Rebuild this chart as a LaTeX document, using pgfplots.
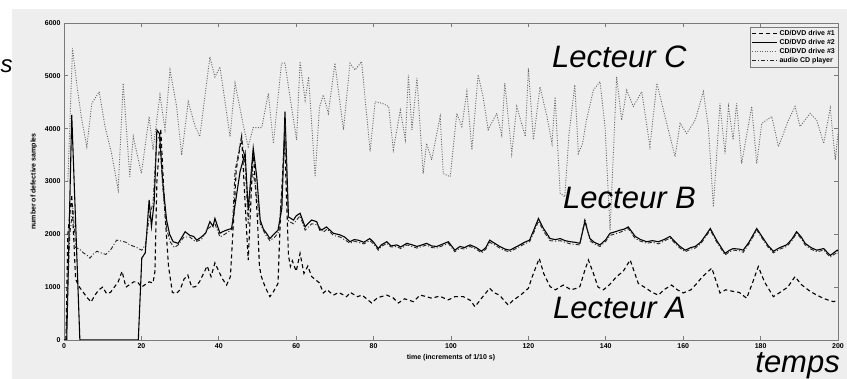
\documentclass[border=0pt]{standalone}
\usepackage{fontspec}
\setmainfont{Liberation Sans}
\usepackage{pgfplots}
\pgfplotsset{compat=1.18}
\definecolor{bg}{HTML}{EEEEEE}
\definecolor{axgray}{HTML}{7A7A7A}
\begin{document}
\begin{tikzpicture}[x=1pt,y=1pt]
\useasboundingbox (0,0) rectangle (847,379);
\clip (0,0) rectangle (847,379);
\fill[white] (0,0) rectangle (847,379);
\fill[bg] (12,0) rectangle (847,370);
\begin{axis}[
  at={(64pt,39pt)}, anchor=south west,
  width=774pt, height=317pt, scale only axis,
  xmin=0, xmax=200, ymin=0, ymax=6000,
  xtick={0,20,...,200}, ytick={0,1000,...,6000},
  tick align=inside, major tick length=4pt,
  axis line style={axgray, line width=0.8pt},
  every tick/.style={axgray, line width=0.8pt},
  tick label style={font=\fontsize{7}{8}\selectfont\bfseries},
  /pgf/number format/assume math mode=true,
  /pgf/number format/1000 sep={},
  xlabel={time (increments of 1/10 s)},
  ylabel={number of defective samples},
  label style={font=\fontsize{7}{8}\selectfont\bfseries},
  xlabel style={yshift=1pt},
  ylabel style={yshift=1pt},
  axis background/.style={fill=bg},
  legend style={at={(1,0.987)}, anchor=north east, draw=axgray, fill=bg,
    font=\fontsize{7}{8}\selectfont\bfseries, inner sep=1pt, row sep=-1.5pt},
  legend cell align=left,
  legend image code/.code={\draw[#1] (0pt,0pt) -- (25pt,0pt);},
]
\addplot[black, line width=1.1pt, dash pattern=on 4pt off 3pt] coordinates {
(0.5,0) (1,2000) (2,2750) (3,1150) (4,1000) (5,900) (6,800) (7,720) (8,850) (9,950)
(10,1000) (11,880) (12,900) (13,1000) (14,1100) (15,1300) (16,1000) (17,1050) (18,1100) (19,1100)
(20,1000) (21,1050) (22,1100) (23,1080) (23.5,1300) (24,3000) (25,4000) (26,2500) (27,1400) (28,900)
(29,880) (30,950) (31,1150) (32,1230) (33,1000) (34,1010) (35,1100) (36,1250) (37,1400) (38,1200)
(39,1460) (40,1300) (41,1150) (42,1040) (43,1200) (44,2500) (44.5,3220) (45.9,3850) (46.5,3000) (47.6,1510)
(48.9,3600) (50,2270) (50.5,1390) (51,1200) (52,1000) (53.2,820) (54,900) (55.3,1070) (56,2500) (57,3800)
(58,1600) (58.5,1390) (59,1500) (60,1300) (61,1640) (62,1260) (63,1400) (64,1200) (65,1140) (66,1080)
(67,890) (68,950) (69.6,850) (71,900) (73,820) (74,900) (75.8,820) (77,850) (79.5,700) (81,800)
(83.4,850) (85,800) (86.4,700) (88,780) (90.3,725) (92,850) (93.7,820) (95,790) (97,830) (99.3,760)
(101,820) (103.2,820) (105,750) (106.2,630) (108,800) (110,980) (111,900) (112.5,850) (114.8,660) (116,750)
(118,850) (120,980) (121,1200) (122.8,1545) (124,1250) (125.6,1010) (127,950) (129,1040) (131,950) (132.5,980)
(133.3,1010) (134.5,1300) (135.5,1515) (136.8,1260) (138,1000) (139.4,950) (141,1050) (142.8,1200) (144.5,1300) (146.3,1515)
(148.4,1070) (150,1000) (152,900) (153.6,850) (155,950) (157,1040) (158.5,950) (160,890) (162,950) (163.5,1070)
(165,1200) (167.4,1360) (169.5,890) (171,950) (172.9,920) (174.5,900) (176.4,790) (178,1100) (179.4,1390) (181,1100)
(183.3,820) (185,900) (187,1000) (188.9,1200) (190.5,1050) (192.8,920) (194.5,850) (196.5,780) (198.8,725) (200,750)
};
\addlegendentry{CD/DVD drive \#1}
\addplot[black, line width=1.1pt] coordinates {
(0,0) (0.7,0) (2,4260) (4.1,0) (19.2,0) (20.1,1550) (21,1650) (22,2650) (22.6,2150) (23.3,2600)
(24,3975) (24.7,3900) (25.5,3000) (26.5,2270) (27.3,2000) (28.2,1860) (29.5,1830) (30.5,1950) (31.3,2050) (32.5,1980)
(33.5,1960) (34.3,1890) (35.5,1950) (36.6,2020) (37.7,2240) (38.5,2150) (39,2300) (40.3,2020) (41,2050) (42,2080)
(43.3,2110) (44.5,2700) (45.5,3190) (46.8,3540) (47.6,2460) (48.9,3630) (49.8,3090) (50.7,2270) (51.5,2100) (52.5,2000)
(53.2,1920) (54.2,2000) (55.3,2080) (56.3,2500) (57.1,4320) (58,2330) (59.3,2270) (60,2350) (61,2400) (62.3,2140)
(63,2200) (64,2270) (65.3,2240) (66.1,2080) (67,2100) (67.8,2140) (69.6,2020) (71.3,1990) (72.5,1950) (73.9,1860)
(75,1900) (76,1890) (77.5,1850) (79,1920) (80,1850) (81.2,1730) (82,1800) (83.4,1860) (84.5,1780) (86,1800)
(87,1760) (88.6,1830) (90,1800) (91.2,1770) (92.5,1800) (93.7,1830) (95,1780) (96.3,1770) (98,1820) (99.3,1860)
(101,1700) (102.3,1770) (103.5,1750) (104.9,1800) (106.5,1750) (107.9,1680) (109,1750) (110,1890) (111.3,1830) (112.6,1770)
(114,1720) (115.2,1700) (116.5,1750) (117.8,1800) (119,1850) (120.3,1890) (121.5,2100) (122.6,2300) (123.9,2110) (125.6,1920)
(127,1900) (128.2,1920) (129.5,1880) (130.8,1860) (132,1850) (133.3,1830) (134.6,2240) (135.9,1920) (137,1850) (138.5,1800)
(140,1900) (141.1,2020) (142.5,2050) (143.7,2080) (144.8,2100) (145.8,2140) (147.6,1960) (149,1900) (150.6,1860) (152,1880)
(153.6,1860) (155,1900) (156.6,1960) (158,1850) (159,1780) (160.5,1700) (162,1750) (163.1,1770) (164.5,1850) (165.5,1950)
(167,2110) (168.6,1890) (170.8,1640) (172,1700) (172.9,1730) (174.5,1720) (175.5,1700) (177,1850) (179,2110) (180.7,1920)
(182,1780) (183.3,1680) (185,1750) (186.7,1800) (188,1900) (189.3,2050) (190.5,1950) (191.5,1830) (193,1750) (194.5,1700)
(196.3,1730) (198,1600) (199.8,1700) (200,1680)
};
\addlegendentry{CD/DVD drive \#2}
\addplot[black!60, line width=0.9pt, dash pattern=on 1pt off 1.5pt] coordinates {
(1,3000) (2.2,5520) (3.5,4730) (4.6,4160) (5.9,3660) (7.2,4480) (9.1,4700) (10.6,4040) (12.3,3530) (14,2840)
(15.3,4860) (17,3090) (17.9,3850) (20,3150) (22,4230) (23,3600) (24.8,4640) (26.1,3980) (27.4,5110) (29.1,4420)
(30.4,3500) (32.1,4510) (33.9,4040) (35.1,3850) (37.7,5360) (39,4980) (40.3,5170) (42.9,3850) (44.2,4860) (46.4,4040)
(47.6,3660) (48.9,4020) (51.1,4020) (52.8,4670) (54.1,3720) (56.2,5240) (57.1,5240) (58.4,4600) (60.1,3790) (61,5270)
(62.3,4540) (63.2,4980) (64.9,3090) (66,4400) (67,4640) (68.3,4290) (70,5240) (72.2,3980) (73.9,5240) (75.2,5110)
(76.9,5270) (79.1,3570) (80.4,4510) (82.2,4480) (83.9,4420) (85.1,3600) (86.9,4350) (88.2,3790) (89,5020) (89.9,3980)
(91.2,4960) (92.8,3150) (93.7,3720) (95,3410) (97.2,4230) (98,3150) (99.8,3090) (101.5,4290) (102.8,4040) (104.1,4700)
(105.4,3600) (107,5020) (108.3,4600) (109.6,3980) (111.8,4290) (113.1,3880) (113.9,4860) (115.7,3530) (117,4420) (119.2,3850)
(120,5140) (121.3,3790) (123,4790) (124.8,4230) (126.1,3720) (126.9,4600) (128.2,2780) (129.4,2710) (130.5,3900) (132,4830)
(132.9,3530) (134,3720) (135,4160) (136.8,4730) (138.5,4890) (139.8,4040) (141.1,2080) (142.8,4980) (144.1,4160) (145.4,4730)
(147.1,4420) (149.3,4700) (151.4,3660) (153.2,4860) (155.3,4230) (157.9,3470) (159.2,4100) (160.9,3910) (163.1,4160) (165.2,4700)
(166.5,4040) (167.8,2520) (169.5,4480) (170.8,3530) (171.7,4420) (172.9,3790) (173.8,4480) (175.1,3340) (177.7,4420) (179,3340)
(180.3,4100) (182.9,4230) (184.6,3660) (187.2,4160) (188.9,4420) (190.2,4040) (192.8,4290) (194.5,4160) (196.3,3720) (198,4390)
(199.3,3410) (200,3900)
};
\addlegendentry{CD/DVD drive \#3}
\addplot[black!85, line width=0.9pt, dash pattern=on 4pt off 2pt on 1pt off 2pt] coordinates {
(0.5,0) (1.5,2000) (2.3,2500) (3,1750) (4,1720) (5,1650) (6,1600) (6.7,1550) (7.5,1620) (8.5,1680)
(9.5,1650) (10.8,1620) (12,1700) (13.6,1890) (15,1870) (16,1850) (17,1800) (18.5,1760) (20.1,1700) (21,1800)
(22,2300) (23,2600) (24,3800) (24.7,3850) (25.5,2900) (26.5,2100) (27.5,1850) (28.5,1750) (29.5,1800) (31,1950)
(32.5,1950) (34,1860) (35.5,1900) (37,2100) (38,2150) (39,2200) (40.3,1950) (41.5,2000) (42.5,2050) (43.5,2100)
(44.2,3200) (45.9,3850) (46.8,3300) (47.6,2200) (48.5,3300) (49.5,2900) (50.7,2200) (52,2000) (53.2,1880) (54.5,1950)
(55.5,2050) (56.5,3000) (57.1,4100) (58,2250) (59.3,2200) (61,2350) (62.3,2080) (64,2200) (65.5,2180) (67,2040)
(68,2100) (69.6,1980) (71.3,1950) (72.5,1900) (73.9,1830) (75,1870) (76,1850) (77.5,1820) (79,1880) (80,1820)
(81.2,1700) (82,1770) (83.4,1830) (84.5,1760) (86,1770) (87,1730) (88.6,1800) (90,1770) (91.2,1740) (92.5,1770)
(93.7,1800) (95,1750) (96.3,1740) (98,1790) (99.3,1830) (101,1670) (102.3,1740) (103.5,1720) (104.9,1770) (106.5,1720)
(107.9,1650) (109,1720) (110,1850) (111.3,1800) (112.6,1740) (114,1690) (115.2,1670) (116.5,1720) (117.8,1770) (119,1820)
(120.3,1860) (121.5,2050) (122.6,2250) (123.9,2060) (125.6,1880) (127,1870) (128.2,1880) (129.5,1850) (130.8,1820) (132,1810)
(133.3,1800) (134.6,2300) (135.9,1880) (137,1820) (138.5,1770) (140,1870) (141.1,1980) (142.5,2010) (143.7,2040) (144.8,2070)
(145.8,2110) (147.6,1920) (149,1870) (150.6,1830) (152,1850) (153.6,1820) (155,1870) (156.6,1930) (158,1820) (159,1750)
(160.5,1670) (162,1720) (163.1,1740) (164.5,1820) (165.5,1920) (167,2080) (168.6,1860) (170.8,1610) (172,1670) (172.9,1700)
(174.5,1690) (175.5,1660) (177,1820) (179,2080) (180.7,1890) (182,1750) (183.3,1650) (185,1720) (186.7,1770) (188,1870)
(189.3,2020) (190.5,1920) (191.5,1800) (193,1720) (194.5,1670) (196.3,1700) (198,1570) (199.8,1660) (200,1640)
};
\addlegendentry{audio CD player}
\end{axis}
\node[anchor=base west, inner sep=0pt, font=\fontsize{31}{31}\selectfont\itshape] at (552,311) {Lecteur C};
\node[anchor=base west, inner sep=0pt, font=\fontsize{31}{31}\selectfont\itshape] at (563,170) {Lecteur B};
\node[anchor=base west, inner sep=0pt, font=\fontsize{31}{31}\selectfont\itshape] at (553,60) {Lecteur A};
\node[anchor=base east, inner sep=0pt, font=\fontsize{31}{31}\selectfont\itshape] at (840,6) {temps};
\node[anchor=base west, inner sep=0pt, font=\fontsize{24}{24}\selectfont\itshape] at (0.5,306) {s};
\end{tikzpicture}
\end{document}
